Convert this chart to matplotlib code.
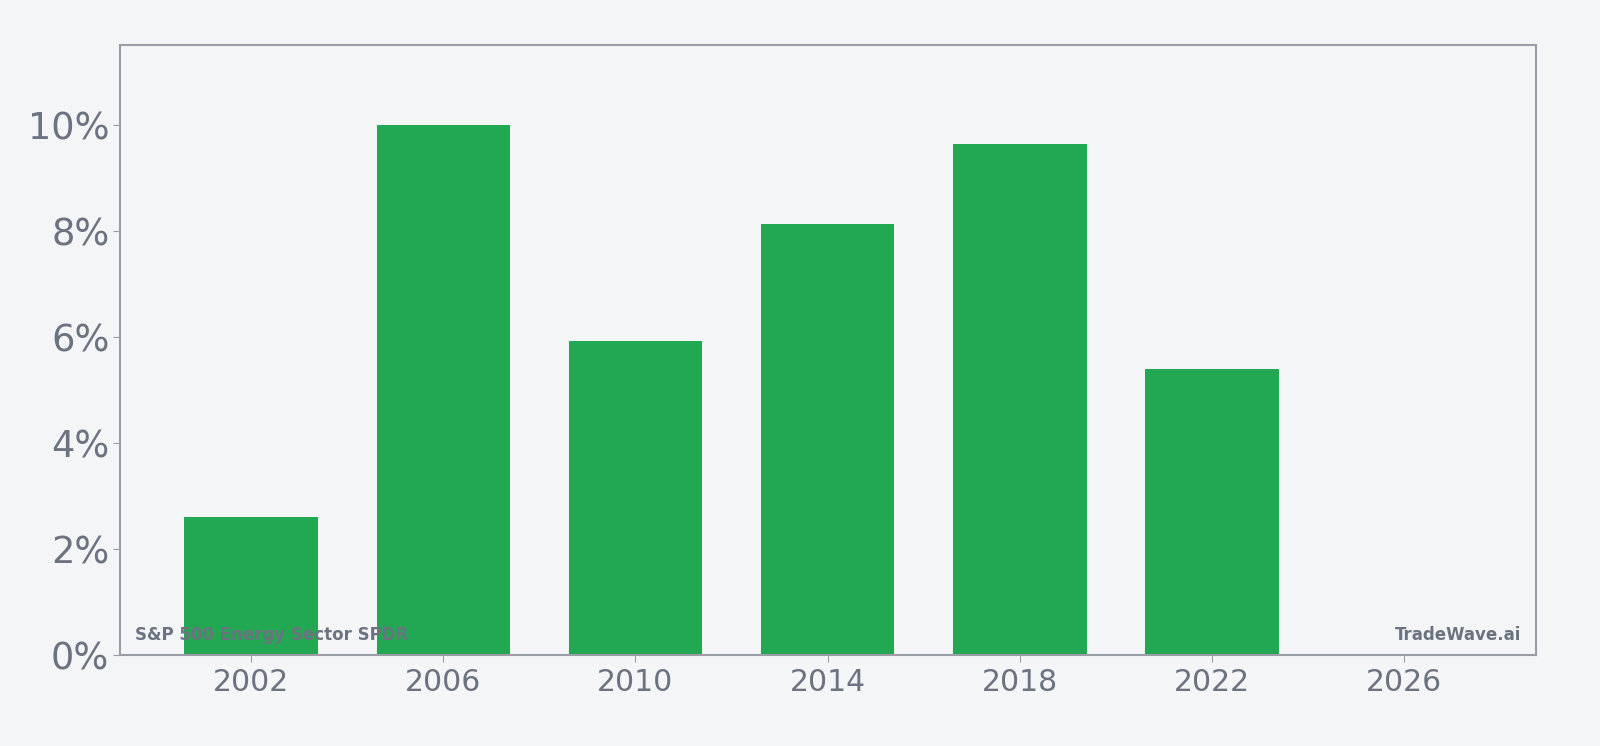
import matplotlib
matplotlib.use("Agg")
import matplotlib.pyplot as plt
from matplotlib.ticker import FuncFormatter

years = [2002, 2006, 2010, 2014, 2018, 2022]
values = [2.60, 10.0, 5.93, 8.13, 9.65, 5.41]
xticks = [2002, 2006, 2010, 2014, 2018, 2022, 2026]
yticks = [0, 2, 4, 6, 8, 10]
title_left = "S&P 500 Energy Sector SPDR"
title_right = "TradeWave.ai"

bg = "#f4f5f7"
bar_color = "#22a852"
text_color = "#6b7280"
spine_color = "#9a9ca8"

fig = plt.figure(figsize=(16, 7.46), dpi=100, facecolor=bg)
ax = fig.add_axes([0.0753, 0.1219, 0.8845, 0.8179], facecolor=bg)
ax.bar(years, values, width=2.78, color=bar_color, zorder=2)
ax.set_xlim(1999.28, 2028.74)
ax.set_ylim(0, 11.52)
ax.set_xticks(xticks)
ax.set_yticks(yticks)
ax.yaxis.set_major_formatter(FuncFormatter(lambda v, p: f"{v:.0f}%"))
ax.tick_params(axis="x", labelsize=21.5, colors=text_color, length=5, color=spine_color, pad=4)
ax.tick_params(axis="y", labelsize=26.5, colors=text_color, length=5, color=spine_color, pad=3)
for s in ax.spines.values():
    s.set_color(spine_color)
    s.set_linewidth(1.5)
ax.text(0.01, 0.033, title_left, transform=ax.transAxes, fontsize=12, fontweight="bold",
        color=text_color, ha="left", va="center", zorder=5)
ax.text(0.99, 0.033, title_right, transform=ax.transAxes, fontsize=12, fontweight="bold",
        color=text_color, ha="right", va="center", zorder=5)
fig.savefig("out.png", dpi=100, facecolor=bg)
